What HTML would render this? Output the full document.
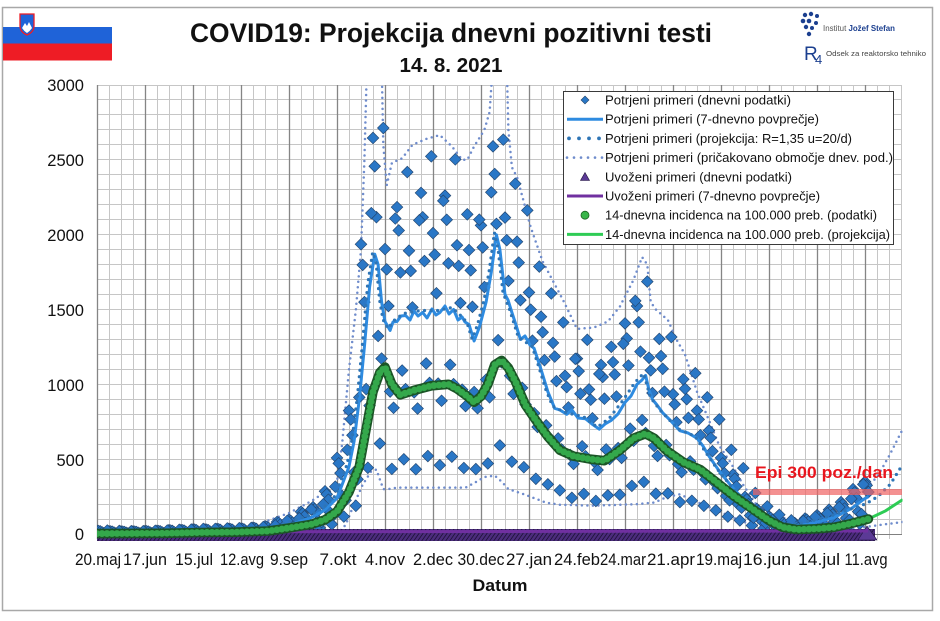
<!DOCTYPE html>
<html><head><meta charset="utf-8"><style>
html,body{margin:0;padding:0;background:#fff;}
svg{display:block;}
text{font-family:"Liberation Sans",sans-serif;}
</style></head><body>
<svg width="940" height="621" viewBox="0 0 940 621" xmlns="http://www.w3.org/2000/svg">
<defs>
<clipPath id="cp"><rect x="97" y="85" width="805.5" height="462"/></clipPath>
<pattern id="hatch" width="4" height="14" patternUnits="userSpaceOnUse" patternTransform="skewX(-35)"><rect width="4" height="14" fill="#4b2c7c"/><line x1="0.5" y1="0" x2="0.5" y2="14" stroke="#1f1238" stroke-width="1"/></pattern>
<marker id="mk0" markerUnits="userSpaceOnUse" markerWidth="10" markerHeight="300" refX="5" refY="150" overflow="visible" orient="0"><path d="M5,119.93L8.675,150L5,180.07L1.325,150Z" fill="#22456e"/><path d="M5,124.23L8.15,150L5,175.77L1.85,150Z" fill="#2a77c6"/></marker>
<marker id="mk1" markerUnits="userSpaceOnUse" markerWidth="10" markerHeight="300" refX="5" refY="150" overflow="visible" orient="0"><path d="M5,117.62L8.675,150L5,182.38L1.325,150Z" fill="#22456e"/><path d="M5,122.25L8.15,150L5,177.75L1.85,150Z" fill="#2a77c6"/></marker>
<marker id="mk2" markerUnits="userSpaceOnUse" markerWidth="10" markerHeight="300" refX="5" refY="150" overflow="visible" orient="0"><path d="M5,112.42L8.675,150L5,187.58L1.325,150Z" fill="#22456e"/><path d="M5,117.79L8.15,150L5,182.21L1.85,150Z" fill="#2a77c6"/></marker>
<marker id="mk3" markerUnits="userSpaceOnUse" markerWidth="10" markerHeight="300" refX="5" refY="150" overflow="visible" orient="0"><path d="M5,89.87L8.675,150L5,210.13L1.325,150Z" fill="#22456e"/><path d="M5,98.46L8.15,150L5,201.54L1.85,150Z" fill="#2a77c6"/></marker>
<marker id="mk4" markerUnits="userSpaceOnUse" markerWidth="10" markerHeight="300" refX="5" refY="150" overflow="visible" orient="0"><path d="M5,18.45L8.675,150L5,281.55L1.325,150Z" fill="#22456e"/><path d="M5,37.24L8.15,150L5,262.76L1.85,150Z" fill="#2a77c6"/></marker>
<marker id="mk5" markerUnits="userSpaceOnUse" markerWidth="10" markerHeight="300" refX="5" refY="150" overflow="visible" orient="0"><path d="M5,82.11L8.675,150L5,217.89L1.325,150Z" fill="#22456e"/><path d="M5,91.81L8.15,150L5,208.19L1.85,150Z" fill="#2a77c6"/></marker>
<marker id="mk6" markerUnits="userSpaceOnUse" markerWidth="10" markerHeight="300" refX="5" refY="150" overflow="visible" orient="0"><path d="M5,122.84L8.675,150L5,177.16L1.325,150Z" fill="#22456e"/><path d="M5,126.72L8.15,150L5,173.28L1.85,150Z" fill="#2a77c6"/></marker>
</defs>
<rect width="940" height="621" fill="#fff"/>
<rect x="2.5" y="7.5" width="930" height="603" fill="none" stroke="#a8a8a8" stroke-width="1.5"/>
<!-- flag -->
<rect x="3" y="27" width="109" height="17" fill="#1f63d8"/>
<rect x="3" y="43.5" width="109" height="17" fill="#ee1c25"/>
<path d="M20,14 L34,14 L34,26 Q34,32 27,35 Q20,32 20,26 Z" fill="#1f63d8" stroke="#ee1c25" stroke-width="1.3"/>
<path d="M22,28 L25,23 L27,26 L29,22 L32,28 Q30,31 27,33 Q24,31 22,28 Z" fill="#fff"/>
<!-- titles -->
<text x="451" y="42" text-anchor="middle" font-size="27" font-weight="bold" fill="#111" textLength="522" lengthAdjust="spacingAndGlyphs">COVID19: Projekcija dnevni pozitivni testi</text>
<text x="451" y="72" text-anchor="middle" font-size="20" font-weight="bold" fill="#111" textLength="103" lengthAdjust="spacingAndGlyphs">14. 8. 2021</text>
<!-- logo -->
<g fill="#1b3f8f">
<circle cx="805" cy="15" r="2.2"/><circle cx="811" cy="14" r="2.2"/><circle cx="817" cy="16" r="2"/>
<circle cx="803" cy="21" r="2.3"/><circle cx="809" cy="21" r="2.3"/><circle cx="816" cy="23" r="2"/>
<circle cx="806" cy="27" r="2.2"/><circle cx="812" cy="28" r="2"/><circle cx="809" cy="34" r="2.2"/>
</g>
<text x="823" y="31" font-size="8" fill="#555" textLength="72" lengthAdjust="spacingAndGlyphs">Institut <tspan font-weight="bold" fill="#1b3f8f">Jožef Stefan</tspan></text>
<text x="804" y="60" font-size="19" fill="#1b3f8f" font-family="Liberation Serif, serif">R</text>
<text x="815" y="64" font-size="13" fill="#1b3f8f" font-family="Liberation Serif, serif">4</text>
<text x="826" y="56" font-size="7.5" fill="#444" textLength="100" lengthAdjust="spacingAndGlyphs">Odsek za reaktorsko tehniko</text>

<!-- grid -->
<g stroke="#c6c6c6" stroke-width="1" fill="none">
<path d="M97,534.5H902M97,519.5H902M97,504.5H902M97,489.5H902M97,474.5H902M97,459.5H902M97,444.5H902M97,429.5H902M97,414.5H902M97,399.5H902M97,384.5H902M97,369.5H902M97,354.5H902M97,339.5H902M97,324.5H902M97,309.5H902M97,294.5H902M97,279.5H902M97,264.5H902M97,249.5H902M97,234.5H902M97,219.5H902M97,204.5H902M97,189.5H902M97,174.5H902M97,159.5H902M97,144.5H902M97,129.5H902M97,114.5H902M97,99.5H902M97,85.5H902"/>
<path d="M109.5,85V539M121.5,85V539M133.5,85V539M157.5,85V539M169.5,85V539M181.5,85V539M205.5,85V539M217.5,85V539M229.5,85V539M253.5,85V539M265.5,85V539M277.5,85V539M301.5,85V539M313.5,85V539M325.5,85V539M349.5,85V539M361.5,85V539M373.5,85V539M397.5,85V539M409.5,85V539M421.5,85V539M445.5,85V539M457.5,85V539M469.5,85V539M493.5,85V539M505.5,85V539M517.5,85V539M541.5,85V539M553.5,85V539M565.5,85V539M589.5,85V539M601.5,85V539M613.5,85V539M637.5,85V539M649.5,85V539M661.5,85V539M685.5,85V539M697.5,85V539M709.5,85V539M733.5,85V539M745.5,85V539M757.5,85V539M781.5,85V539M793.5,85V539M805.5,85V539M829.5,85V539M841.5,85V539M853.5,85V539M877.5,85V539M889.5,85V539M901.5,85V534"/>
</g>
<path d="M97.5,85V539M145.5,85V539M193.5,85V539M241.5,85V539M289.5,85V539M337.5,85V539M385.5,85V539M433.5,85V539M481.5,85V539M529.5,85V539M577.5,85V539M625.5,85V539M673.5,85V539M721.5,85V539M769.5,85V539M817.5,85V539M865.5,85V539" stroke="#858585" stroke-width="1.3" fill="none"/>
<line x1="97" y1="534.5" x2="902" y2="534.5" stroke="#808080" stroke-width="1"/>

<g clip-path="url(#cp)">
<!-- expected range -->
<path d="M268.4,520.5 L289,513 L311.3,501.1 L325,492.1 L337,481.6 L342.1,444.2 L349,369.4 L355.9,309.5 L361,249.6 L364.4,159.8 L367,62.5 L381.6,62.5 L383.3,144.9 L386.7,185.3 L391.9,162.8 L402.1,158.3 L412.4,144.9 L426.1,138.9 L439.9,135.1 L451.9,146.4 L462.1,159.8 L467.3,159.8 L474.1,146.4 L484.4,129.9 L489.6,111.9 L493,62.5 L506.7,62.5 L508.4,129.9 L511.9,167.3 L517,177 L530.7,227.2 L542.7,261.6 L563.3,300.5 L577,328.9 L594.1,327.5 L607.9,321.5 L619.9,306.5 L633.6,279.6 L642.1,257.1 L647.3,264.6 L650.7,302 L655.9,309.5 L667.9,320 L676.4,339.4 L685,354.4 L697,391.8 L709,420.3 L719.3,445.7 L731.3,463.7 L743,484.6 L757,505.6 L769,513 L791.3,520.5 L817,519 L834.1,514.5 L851.3,504.1 L865,489.1 L877,477.1 L889,456.2 L902.7,429.2" fill="none" stroke="#6f8ccc" stroke-width="2.5" stroke-linecap="round" stroke-dasharray="0 5.5"/>
<path d="M337,534 L345.6,525 L354.1,504.1 L362.7,484.6 L371.3,471.1 L376.4,469.6 L383.3,489.1 L388.4,489.1 L397,487.6 L465.6,487.6 L474.1,483.1 L484.4,477.1 L494.7,475.6 L501.6,481.6 L508.4,489.1 L522.1,493.6 L534.1,498.1 L546.1,502.6 L559.9,504.8 L594.1,505.6 L619.9,504.8 L637,504.1 L654.1,502.6 L667.9,496.6 L679.9,494.3 L688.4,498.1 L705.6,505.6 L722.7,513 L739.9,520.5 L757,526.5 L774.1,531 L791.3,533.3 L817,532.5 L851.3,529.5 L868.4,526.5 L902.7,522" fill="none" stroke="#6f8ccc" stroke-width="2.5" stroke-linecap="round" stroke-dasharray="0 5.5"/>

<!-- daily diamonds: 7 weekday rows -->
<g fill="none" stroke="none">
<path marker-start="url(#mk0)" marker-mid="url(#mk0)" marker-end="url(#mk0)" transform="translate(97,534) scale(1.7143,-0.20954)" d="M0,15 L7,13 L14,12 L21,12 L28,14 L35,15 L42,18 L49,19 L56,22 L63,22 L70,24 L77,25 L84,26 L91,30 L98,37 L105,57 L112,68 L119,106 L126,128 L133,204 L140,363 L147,589 L154,1383 L161,1890 L168,1360 L175,1560 L182,1352 L189,1628 L196,1436 L203,1615 L210,1378 L217,1355 L224,1473 L231,1850 L238,1510 L245,1395 L252,1153 L259,1037 L266,912 L273,755 L280,837 L287,690 L294,807 L301,820 L308,1005 L315,1088 L322,841 L329,849 L336,667 L343,693 L350,589 L357,494 L364,363 L371,284 L378,177 L385,119 L392,83 L399,59 L406,56 L413,74 L420,89 L427,116 L434,152 L441,214 L448,250"/>
<path marker-start="url(#mk1)" marker-mid="url(#mk1)" marker-end="url(#mk1)" transform="translate(98.714,534) scale(1.7143,-0.19457)" d="M0,15 L7,13 L14,12 L21,12 L28,14 L35,15 L42,18 L49,19 L56,22 L63,22 L70,24 L77,25 L84,26 L91,30 L98,37 L105,57 L112,68 L119,106 L126,128 L133,204 L140,363 L147,589 L154,1383 L161,1890 L168,1360 L175,1560 L182,1352 L189,1628 L196,1436 L203,1615 L210,1378 L217,1355 L224,1473 L231,1850 L238,1510 L245,1395 L252,1153 L259,1037 L266,912 L273,755 L280,837 L287,690 L294,807 L301,820 L308,1005 L315,1088 L322,841 L329,849 L336,667 L343,693 L350,589 L357,494 L364,363 L371,284 L378,177 L385,119 L392,83 L399,59 L406,56 L413,74 L420,89 L427,116 L434,152 L441,214 L448,250"/>
<path marker-start="url(#mk2)" marker-mid="url(#mk2)" marker-end="url(#mk2)" transform="translate(100.429,534) scale(1.7143,-0.16763)" d="M0,15 L7,13 L14,12 L21,12 L28,14 L35,15 L42,18 L49,19 L56,22 L63,22 L70,24 L77,25 L84,26 L91,30 L98,37 L105,57 L112,68 L119,106 L126,128 L133,204 L140,363 L147,589 L154,1383 L161,1890 L168,1360 L175,1560 L182,1352 L189,1628 L196,1436 L203,1615 L210,1378 L217,1355 L224,1473 L231,1850 L238,1510 L245,1395 L252,1153 L259,1037 L266,912 L273,755 L280,837 L287,690 L294,807 L301,820 L308,1005 L315,1088 L322,841 L329,849 L336,667 L343,693 L350,589 L357,494 L364,363 L371,284 L378,177 L385,119 L392,83 L399,59 L406,56 L413,74 L420,89 L427,116 L434,152 L441,214 L448,250"/>
<path marker-start="url(#mk3)" marker-mid="url(#mk3)" marker-end="url(#mk3)" transform="translate(102.143,534) scale(1.7143,-0.10477)" d="M0,15 L7,13 L14,12 L21,12 L28,14 L35,15 L42,18 L49,19 L56,22 L63,22 L70,24 L77,25 L84,26 L91,30 L98,37 L105,57 L112,68 L119,106 L126,128 L133,204 L140,363 L147,589 L154,1383 L161,1890 L168,1360 L175,1560 L182,1352 L189,1628 L196,1436 L203,1615 L210,1378 L217,1355 L224,1473 L231,1850 L238,1510 L245,1395 L252,1153 L259,1037 L266,912 L273,755 L280,837 L287,690 L294,807 L301,820 L308,1005 L315,1088 L322,841 L329,849 L336,667 L343,693 L350,589 L357,494 L364,363 L371,284 L378,177 L385,119 L392,83 L399,59 L406,56 L413,74 L420,89 L427,116 L434,152 L441,214"/>
<path marker-start="url(#mk4)" marker-mid="url(#mk4)" marker-end="url(#mk4)" transform="translate(103.857,534) scale(1.7143,-0.04789)" d="M0,15 L7,13 L14,12 L21,12 L28,14 L35,15 L42,18 L49,19 L56,22 L63,22 L70,24 L77,25 L84,26 L91,30 L98,37 L105,57 L112,68 L119,106 L126,128 L133,204 L140,363 L147,589 L154,1383 L161,1890 L168,1360 L175,1560 L182,1352 L189,1628 L196,1436 L203,1615 L210,1378 L217,1355 L224,1473 L231,1850 L238,1510 L245,1395 L252,1153 L259,1037 L266,912 L273,755 L280,837 L287,690 L294,807 L301,820 L308,1005 L315,1088 L322,841 L329,849 L336,667 L343,693 L350,589 L357,494 L364,363 L371,284 L378,177 L385,119 L392,83 L399,59 L406,56 L413,74 L420,89 L427,116 L434,152 L441,214"/>
<path marker-start="url(#mk5)" marker-mid="url(#mk5)" marker-end="url(#mk5)" transform="translate(105.571,534) scale(1.7143,-0.0928)" d="M0,15 L7,13 L14,12 L21,12 L28,14 L35,15 L42,18 L49,19 L56,22 L63,22 L70,24 L77,25 L84,26 L91,30 L98,37 L105,57 L112,68 L119,106 L126,128 L133,204 L140,363 L147,589 L154,1383 L161,1890 L168,1360 L175,1560 L182,1352 L189,1628 L196,1436 L203,1615 L210,1378 L217,1355 L224,1473 L231,1850 L238,1510 L245,1395 L252,1153 L259,1037 L266,912 L273,755 L280,837 L287,690 L294,807 L301,820 L308,1005 L315,1088 L322,841 L329,849 L336,667 L343,693 L350,589 L357,494 L364,363 L371,284 L378,177 L385,119 L392,83 L399,59 L406,56 L413,74 L420,89 L427,116 L434,152 L441,214"/>
<path marker-start="url(#mk6)" marker-mid="url(#mk6)" marker-end="url(#mk6)" transform="translate(107.286,534) scale(1.7143,-0.23199)" d="M0,15 L7,13 L14,12 L21,12 L28,14 L35,15 L42,18 L49,19 L56,22 L63,22 L70,24 L77,25 L84,26 L91,30 L98,37 L105,57 L112,68 L119,106 L126,128 L133,204 L140,363 L147,589 L154,1383 L161,1750 L168,1360 L175,1560 L182,1352 L189,1628 L196,1436 L203,1615 L210,1378 L217,1355 L224,1473 L231,1700 L238,1510 L245,1395 L252,1153 L259,1037 L266,912 L273,755 L280,837 L287,690 L294,807 L301,820 L308,1005 L315,1088 L322,841 L329,849 L336,667 L343,693 L350,589 L357,494 L364,363 L371,284 L378,177 L385,119 L392,83 L399,59 L406,56 L413,74 L420,89 L427,116 L434,152 L441,214"/>
</g>

<!-- 7-day average -->
<path d="M97,531.8 L131.3,532.2 L165.6,531.3 L199.9,530.7 L234.1,530.3 L268.4,528.8 L289,525 L311.3,517.5 L325,510.1 L337,498.1 L349,466.6 L354.1,441.2 L359.3,399.3 L364.4,346.9 L369.6,287 L374.7,254.1 L378.1,264.6 L381.6,302 L385,321.5 L390.1,330.4 L393,322 L397,321.5 L401,316 L405.6,315.5 L410,320 L414,311 L418,316 L422.7,312.5 L427,318 L432,309 L436,315 L439.9,312.5 L445,306 L449,314 L453.6,309.5 L458,320 L462.1,317 L465,322 L469,324.5 L474.1,340.9 L479.3,327.5 L486.1,302 L491.3,272.1 L496.4,234.7 L499.9,249.6 L505,294.5 L508,300 L511.9,312.5 L516,325 L520.4,339.4 L525,336 L530,345 L534.1,348.4 L541,369.4 L547.9,391.8 L554.7,408.3 L560,410 L566.7,414.3 L572,410 L578,418 L585.6,418.8 L592,424 L599.3,429.2 L605,424 L611.3,420.3 L618,414 L625,402.3 L631,396 L637,384.3 L642,380 L645.6,375.4 L649,390 L652.4,399.3 L657,405 L662.7,412.8 L670,420 L679.9,430.7 L688,433 L697,438.2 L703,446 L709,456.2 L719.3,471.1 L731.3,486.1 L745,501.1 L757,513 L769,520.5 L782.7,525 L799.9,525.8 L817,522 L834.1,517.5 L851.3,508.6 L863.3,499.6 L868.4,496.6" fill="none" stroke="#2e8be0" stroke-width="3" stroke-linejoin="round"/>
<!-- projection dots -->
<path d="M285.6,525.5 L311.3,517.5 L325,510.1 L337,498.1 L349,466.6 L354.1,441.2 L359.3,399.3 L364.4,346.9 L369.6,287 L374.7,254.1 L378.1,264.6 L381.6,302 L385,321.5 L390.1,330.4 L397,321.5 L405.6,315.5 L422.7,312.5 L439.9,312.5 L453.6,309.5 L462.1,317 L469,324.5 L474.1,340.9 L479.3,327.5 L486.1,302 L491.3,272.1 L496.4,234.7 L499.9,249.6 L505,294.5 L511.9,312.5 L520.4,339.4 L534.1,348.4 L541,369.4 L547.9,391.8 L554.7,408.3 L566.7,414.3 L585.6,418.8 L599.3,429.2 L611.3,420.3 L625,402.3 L637,384.3 L645.6,375.4 L652.4,399.3 L662.7,412.8 L679.9,430.7 L697,438.2 L709,456.2 L719.3,471.1 L731.3,486.1 L745,501.1 L757,513 L769,520.5 L782.7,525 L799.9,525.8 L817,522 L834.1,517.5 L851.3,511.5 L868.4,505.6 L880.4,498.1 L892.4,486.1 L902.7,469.6" fill="none" stroke="#2e75b6" stroke-width="3.2" stroke-linecap="round" stroke-dasharray="0 6.5" transform="translate(-2,-2)"/>

<!-- imported band -->
<rect x="92" y="529" width="783" height="12" fill="url(#hatch)"/>
<polygon points="858,540 867,526 877,540" fill="#5b3a96" stroke="#1f1238" stroke-width="0.6"/>
<line x1="97" y1="532" x2="868" y2="531" stroke="#7030a0" stroke-width="3"/>

<!-- green projection line -->
<path d="M97,533.6 L165.6,533.3 L199.9,532.5 L234.1,532.2 L268.4,531 L289,528 L311.3,524.3 L325,519.8 L337,511.5 L349,492.1 L359.3,466.6 L366.1,429.2 L373,391.8 L379.9,372.4 L385,367.1 L391.9,384.3 L400.4,394.8 L414.1,390.3 L431.3,385.8 L448.4,384.3 L457,388.8 L467.3,396.3 L474.1,402.3 L481,396.3 L487.9,384.3 L494.7,364.9 L501.6,360.4 L508.4,367.9 L515.3,381.3 L525.6,405.3 L535.9,420.3 L547.9,436.7 L559.9,450.2 L573.6,456.2 L590.7,459.2 L604.4,460.7 L619.9,450.2 L633.6,438.2 L645.6,433.7 L654.1,438.2 L666.1,450.2 L683.3,462.2 L700.4,469.6 L717.6,483.1 L734.7,496.6 L751.9,508.6 L769,520.5 L782.7,527.3 L796.4,529.5 L817,528.8 L834.1,527.3 L851.3,523.5 L868.4,519 L885.6,510.8 L902.7,499.6" fill="none" stroke="#2ecc55" stroke-width="3"/>
<!-- green circles -->
<path d="M97,533.6 L165.6,533.3 L199.9,532.5 L234.1,532.2 L268.4,531 L289,528 L311.3,524.3 L325,519.8 L337,511.5 L349,492.1 L359.3,466.6 L366.1,429.2 L373,391.8 L379.9,372.4 L385,367.1 L391.9,384.3 L400.4,394.8 L414.1,390.3 L431.3,385.8 L448.4,384.3 L457,388.8 L467.3,396.3 L474.1,402.3 L481,396.3 L487.9,384.3 L494.7,364.9 L501.6,360.4 L508.4,367.9 L515.3,381.3 L525.6,405.3 L535.9,420.3 L547.9,436.7 L559.9,450.2 L573.6,456.2 L590.7,459.2 L604.4,460.7 L619.9,450.2 L633.6,438.2 L645.6,433.7 L654.1,438.2 L666.1,450.2 L683.3,462.2 L700.4,469.6 L717.6,483.1 L734.7,496.6 L751.9,508.6 L769,520.5 L782.7,527.3 L796.4,529.5 L817,528.8 L834.1,527.3 L851.3,523.5 L868.4,519" fill="none" stroke="#1b5526" stroke-width="9.6" stroke-linecap="round" stroke-linejoin="round"/>
<path d="M97,533.6 L165.6,533.3 L199.9,532.5 L234.1,532.2 L268.4,531 L289,528 L311.3,524.3 L325,519.8 L337,511.5 L349,492.1 L359.3,466.6 L366.1,429.2 L373,391.8 L379.9,372.4 L385,367.1 L391.9,384.3 L400.4,394.8 L414.1,390.3 L431.3,385.8 L448.4,384.3 L457,388.8 L467.3,396.3 L474.1,402.3 L481,396.3 L487.9,384.3 L494.7,364.9 L501.6,360.4 L508.4,367.9 L515.3,381.3 L525.6,405.3 L535.9,420.3 L547.9,436.7 L559.9,450.2 L573.6,456.2 L590.7,459.2 L604.4,460.7 L619.9,450.2 L633.6,438.2 L645.6,433.7 L654.1,438.2 L666.1,450.2 L683.3,462.2 L700.4,469.6 L717.6,483.1 L734.7,496.6 L751.9,508.6 L769,520.5 L782.7,527.3 L796.4,529.5 L817,528.8 L834.1,527.3 L851.3,523.5 L868.4,519" fill="none" stroke="#34a84b" stroke-width="6.8" stroke-linecap="round" stroke-dasharray="0 5"/>
</g>

<!-- y labels -->
<g font-size="16.5" fill="#111" text-anchor="end">
<text x="84" y="91">3000</text>
<text x="84" y="166">2500</text>
<text x="84" y="241">2000</text>
<text x="84" y="316">1500</text>
<text x="84" y="391">1000</text>
<text x="84" y="466">500</text>
<text x="84" y="540">0</text>
</g>
<!-- x labels -->
<g font-size="16.5" fill="#111" text-anchor="middle">
<text x="98" y="565" textLength="46" lengthAdjust="spacingAndGlyphs">20.maj</text>
<text x="145" y="565" textLength="44" lengthAdjust="spacingAndGlyphs">17.jun</text>
<text x="194" y="565" textLength="38" lengthAdjust="spacingAndGlyphs">15.jul</text>
<text x="242" y="565" textLength="44" lengthAdjust="spacingAndGlyphs">12.avg</text>
<text x="289" y="565" textLength="38" lengthAdjust="spacingAndGlyphs">9.sep</text>
<text x="338" y="565" textLength="37" lengthAdjust="spacingAndGlyphs">7.okt</text>
<text x="385" y="565" textLength="40" lengthAdjust="spacingAndGlyphs">4.nov</text>
<text x="433" y="565" textLength="40" lengthAdjust="spacingAndGlyphs">2.dec</text>
<text x="481" y="565" textLength="47" lengthAdjust="spacingAndGlyphs">30.dec</text>
<text x="529" y="565" textLength="46" lengthAdjust="spacingAndGlyphs">27.jan</text>
<text x="577" y="565" textLength="46" lengthAdjust="spacingAndGlyphs">24.feb</text>
<text x="623" y="565" textLength="46" lengthAdjust="spacingAndGlyphs">24.mar</text>
<text x="671" y="565" textLength="48" lengthAdjust="spacingAndGlyphs">21.apr</text>
<text x="719" y="565" textLength="46" lengthAdjust="spacingAndGlyphs">19.maj</text>
<text x="767" y="565" textLength="48" lengthAdjust="spacingAndGlyphs">16.jun</text>
<text x="819" y="565" textLength="42" lengthAdjust="spacingAndGlyphs">14.jul</text>
<text x="866" y="565" textLength="43" lengthAdjust="spacingAndGlyphs">11.avg</text>
</g>
<text x="500" y="591" text-anchor="middle" font-size="17" font-weight="bold" fill="#111" textLength="55" lengthAdjust="spacingAndGlyphs">Datum</text>
<!-- Epi -->
<rect x="753" y="489" width="149" height="6" fill="#ef6262" fill-opacity="0.7"/>
<text x="755" y="478" font-size="17" font-weight="bold" fill="#e8161e" textLength="138" lengthAdjust="spacingAndGlyphs">Epi 300 poz./dan</text>
<!-- legend -->
<rect x="563.5" y="91.5" width="330" height="153" fill="#fff" stroke="#3a3a3a" stroke-width="1"/>
<g font-size="13" fill="#111">
<text x="605" y="104.5" textLength="186" lengthAdjust="spacingAndGlyphs">Potrjeni primeri (dnevni podatki)</text>
<text x="605" y="123.7" textLength="214" lengthAdjust="spacingAndGlyphs">Potrjeni primeri (7-dnevno povprečje)</text>
<text x="605" y="142.9" textLength="247" lengthAdjust="spacingAndGlyphs">Potrjeni primeri (projekcija: R=1,35 u=20/d)</text>
<text x="605" y="162.1" textLength="288" lengthAdjust="spacingAndGlyphs">Potrjeni primeri (pričakovano območje dnev. pod.)</text>
<text x="605" y="181.3" textLength="187" lengthAdjust="spacingAndGlyphs">Uvoženi primeri (dnevni podatki)</text>
<text x="605" y="200.5" textLength="215" lengthAdjust="spacingAndGlyphs">Uvoženi primeri (7-dnevno povprečje)</text>
<text x="605" y="219.7" textLength="272" lengthAdjust="spacingAndGlyphs">14-dnevna incidenca na 100.000 preb. (podatki)</text>
<text x="605" y="238.9" textLength="285" lengthAdjust="spacingAndGlyphs">14-dnevna incidenca na 100.000 preb. (projekcija)</text>
</g>
<path d="M585,96 L589,100 L585,104 L581,100 Z" fill="#2a77c6" stroke="#24446b" stroke-width="0.6"/>
<line x1="567" y1="119.2" x2="603" y2="119.2" stroke="#2e8be0" stroke-width="3"/>
<g fill="#2e75b6"><circle cx="569" cy="138.4" r="1.9"/><circle cx="579" cy="138.4" r="1.9"/><circle cx="589" cy="138.4" r="1.9"/><circle cx="599" cy="138.4" r="1.9"/></g>
<g fill="#6f8ccc"><circle cx="567" cy="157.6" r="1.3"/><circle cx="574" cy="157.6" r="1.3"/><circle cx="581" cy="157.6" r="1.3"/><circle cx="588" cy="157.6" r="1.3"/><circle cx="595" cy="157.6" r="1.3"/><circle cx="602" cy="157.6" r="1.3"/></g>
<path d="M585,172.5 L589.5,180.5 L580.5,180.5 Z" fill="#5b3a96" stroke="#20123a" stroke-width="0.6"/>
<line x1="567" y1="196" x2="603" y2="196" stroke="#7030a0" stroke-width="3"/>
<circle cx="585" cy="215.2" r="4" fill="#39b54a" stroke="#1b5e20" stroke-width="0.8"/>
<line x1="567" y1="234.4" x2="603" y2="234.4" stroke="#2ecc55" stroke-width="3"/>
</svg>
</body></html>
